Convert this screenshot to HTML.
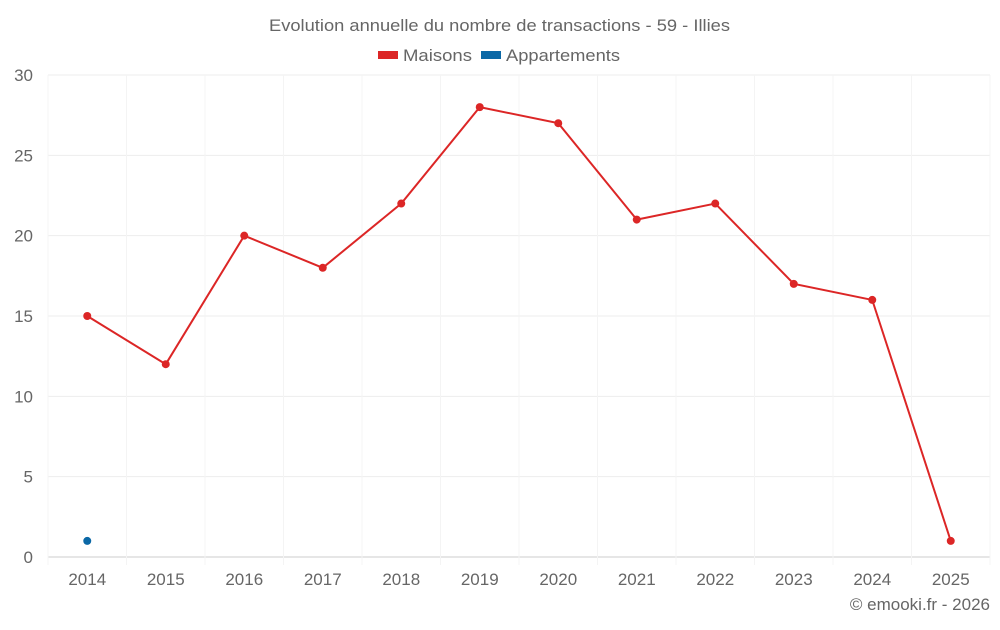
<!DOCTYPE html>
<html><head><meta charset="utf-8"><style>
body{margin:0;background:#fff;font-family:"Liberation Sans",sans-serif;}
svg text{font-family:"Liberation Sans",sans-serif;fill:#666;}
</style></head><body>
<svg width="1000" height="625" viewBox="0 0 1000 625">
<text x="269" y="31" font-size="17" textLength="461" lengthAdjust="spacingAndGlyphs">Evolution annuelle du nombre de transactions - 59 - Illies</text>
<g><rect x="378" y="51" width="20" height="8" fill="#dc2626"/><text x="403" y="61" font-size="17" textLength="69" lengthAdjust="spacingAndGlyphs">Maisons</text></g>
<g><rect x="481" y="51" width="20" height="8" fill="#0b68a6"/><text x="506" y="61" font-size="17" textLength="114" lengthAdjust="spacingAndGlyphs">Appartements</text></g>
<g id="grid"></g><g id="axes"></g><g id="marks"></g>
<text x="990" y="610" text-anchor="end" font-size="17">© emooki.fr - 2026</text>
</svg>
<script>
const categories=["2014","2015","2016","2017","2018","2019","2020","2021","2022","2023","2024","2025"];
const maisons=[15,12,20,18,22,28,27,21,22,17,16,1];
const appartements=[1,null,null,null,null,null,null,null,null,null,null,null];
const yTicks=[0,5,10,15,20,25,30];
const L=48,R=990,T=75,B=557,YMAX=30;
const bw=(R-L)/categories.length;
const x=i=>L+bw*(i+0.5);
const y=v=>B-(v/YMAX)*(B-T);
const NS="http://www.w3.org/2000/svg";
function mk(p,t,a){const e=document.createElementNS(NS,t);for(const k in a)e.setAttribute(k,a[k]);p.appendChild(e);return e;}
const g=document.getElementById('grid'),ax=document.getElementById('axes'),m=document.getElementById('marks');
yTicks.forEach(v=>{
 const l=mk(g,'line',{x1:L,x2:R,y1:y(v),y2:y(v),stroke:v===0?'#ccc':'#ededed','stroke-width':1});
 
 
 const t=mk(ax,'text',{x:33,y:y(v)+6,'text-anchor':'end','font-size':17});t.textContent=v;
 
 
});
for(let i=0;i<=categories.length;i++){
 const l=mk(g,'line',{x1:L+bw*i,x2:L+bw*i,y1:T,y2:B+8,stroke:'#f4f4f4','stroke-width':1});
 
 
}
categories.forEach((c,i)=>{
 const t=mk(ax,'text',{x:x(i),y:585,'text-anchor':'middle','font-size':17});t.textContent=c;
 
 
});
let d=maisons.map((v,i)=>(i?'L':'M')+x(i)+','+y(v)).join('');
const p=mk(m,'path',{d:d,fill:'none',stroke:'#dc2626','stroke-width':2});


maisons.forEach((v,i)=>{
 const c=mk(m,'circle',{cx:x(i),cy:y(v),r:4,fill:'#dc2626'});
 
 
});
appartements.forEach((v,i)=>{
 if(v==null)return;
 const c=mk(m,'circle',{cx:x(i),cy:y(v),r:4,fill:'#0b68a6'});
 
 
});
</script>
</body></html>
